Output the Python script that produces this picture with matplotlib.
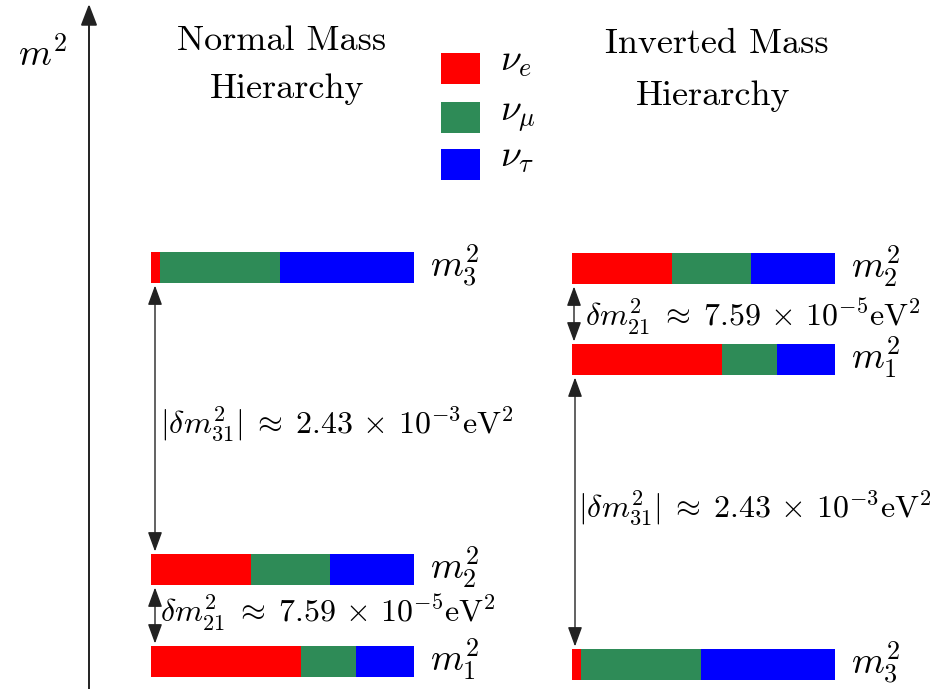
import matplotlib.pyplot as plt
from matplotlib.patches import Rectangle
import numpy as np

plt.rcParams['mathtext.fontset'] = 'cm'

# flavour legend
flavors = [r'$\nu_e$', r'$\nu_\mu$', r'$\nu_\tau$']
flavor_colors = ['#ff0000', '#2e8b57', '#0000ff']

# flavour content (e, mu, tau) of each mass state
content_m1 = [0.57, 0.21, 0.22]
content_m2 = [0.38, 0.30, 0.32]
content_m3 = [0.035, 0.455, 0.51]
contents = [content_m1, content_m2, content_m3]
states = ['1', '2', '3']

# schematic m^2 levels (drawing units, top = 0)
normal_levels = [661, 569, 267]
inverted_levels = [359, 268, 664]

dm21_text = r'$\delta m^2_{21} \;\approx\; 7.59 \,\times\, 10^{-5}\mathrm{eV}^2$'
dm31_text = r'$|\delta m^2_{31}| \;\approx\; 2.43 \,\times\, 10^{-3}\mathrm{eV}^2$'

bar_len = 263
bar_h = 31

fig = plt.figure(figsize=(9.42, 6.89), dpi=100)
ax = fig.add_axes([0, 0, 1, 1])
ax.set_xlim(0, 942)
ax.set_ylim(689, 0)
ax.axis('off')


def draw_levels(x0, levels):
    for state, level, content in zip(states, levels, contents):
        widths = np.array(content) * bar_len
        lefts = x0 + np.concatenate([[0], np.cumsum(widths)[:-1]])
        ax.barh([level] * 3, widths, left=lefts, height=bar_h,
                color=flavor_colors, linewidth=0)
        ax.text(x0 + bar_len + 16, level + 10, rf'$m^2_{state}$',
                fontsize=27, va='baseline', ha='left')


def gap_arrow(x, lev_hi, lev_lo):
    # double arrow between two levels
    ax.annotate('', xy=(x, lev_hi + bar_h / 2 + 3), xytext=(x, lev_lo - bar_h / 2 - 2),
                arrowprops=dict(arrowstyle='<|-|>,head_length=0.6,head_width=0.22',
                                mutation_scale=20, color='#222222', lw=1,
                                shrinkA=0, shrinkB=0))


# vertical m^2 axis
ax.annotate('', xy=(89, 4), xytext=(89, 689),
            arrowprops=dict(arrowstyle='-|>,head_length=0.65,head_width=0.25',
                            mutation_scale=20, color='#222222', lw=1.4,
                            shrinkA=0, shrinkB=0))
ax.text(18, 65, r'$m^2$', fontsize=27, va='baseline', ha='left')

# normal hierarchy
draw_levels(151, normal_levels)
ax.text(282, 50, 'Normal Mass', fontfamily='cmr10', fontsize=26, ha='center', va='baseline')
ax.text(287, 98, 'Hierarchy', fontfamily='cmr10', fontsize=26, ha='center', va='baseline')
gap_arrow(155, normal_levels[2], normal_levels[1])
gap_arrow(155, normal_levels[1], normal_levels[0])
ax.text(160, 433, dm31_text, fontsize=23, va='baseline', ha='left')
ax.text(160, 623, dm21_text, fontsize=23, va='baseline', ha='left')

# inverted hierarchy
draw_levels(572, inverted_levels)
ax.text(717, 53, 'Inverted Mass', fontfamily='cmr10', fontsize=26, ha='center', va='baseline')
ax.text(713, 105, 'Hierarchy', fontfamily='cmr10', fontsize=26, ha='center', va='baseline')
gap_arrow(574, inverted_levels[1], inverted_levels[0])
gap_arrow(575, inverted_levels[0], inverted_levels[2])
ax.text(578, 517, dm31_text, fontsize=23, va='baseline', ha='left')
ax.text(585, 327, dm21_text, fontsize=23, va='baseline', ha='left')

# legend boxes
legend_y = [68, 117, 164]
for lab, col, y in zip(flavors, flavor_colors, legend_y):
    ax.add_patch(Rectangle((441, y - 15.5), 39, 31, color=col, linewidth=0))
    ax.text(500, y + 3, lab, fontsize=27, va='baseline', ha='left')

fig.savefig('out.png', dpi=100, facecolor='white')
